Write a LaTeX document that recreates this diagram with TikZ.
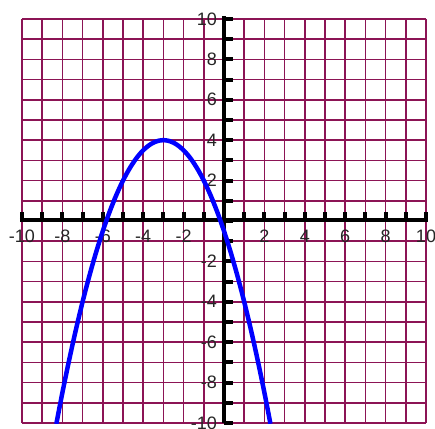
\documentclass[tikz,border=0pt]{standalone}
\usepackage{fontspec}
\setmainfont{Liberation Sans}
\definecolor{gridmaroon}{RGB}{140,20,85}
\definecolor{curveblue}{RGB}{0,0,255}
\begin{document}
\begin{tikzpicture}[x=1pt,y=1pt,
  gridline/.style={draw=gridmaroon,line width=1.6pt},
  axisline/.style={draw=black,line width=4.5pt},
  tickmark/.style={draw=black,line width=4pt},
  lbl/.style={font=\fontsize{18}{18}\selectfont,inner sep=0pt,text=black!85},
  curve/.style={draw=curveblue,line width=4.5pt,line join=round}]
\useasboundingbox (-224,-207) rectangle (211,221);
\fill[white] (-224,-207) rectangle (211,221);
\def\u{20.2}
% grid
\foreach \i in {-10,...,10}{
  \draw[gridline] (\i*\u,-10*\u) -- (\i*\u,10*\u);
  \draw[gridline] (-10*\u,\i*\u) -- (10*\u,\i*\u);
}
% axes
\coordinate (xa) at (-10*\u-2,1);
\coordinate (xb) at (10*\u+2,1);
\coordinate (ya) at (0,-10*\u);
\coordinate (yb) at (0,10*\u+3);
\draw[axisline] (xa) -- (xb);
\draw[axisline] (ya) -- (yb);
\foreach \i in {-10,...,10}{
  \draw[tickmark] (\i*\u,1) -- (\i*\u,9);
  \draw[tickmark] (0,\i*\u) -- (9,\i*\u);
}
% labels
\foreach \i in {-10,-8,-6,-4,-2,2,4,6,8,10}{
  \node[lbl] (xl\i) at (\i*\u,-15) {\i};
  \node[lbl,anchor=east] (yl\i) at (-7,\i*\u) {\i};
}
% curve
\begin{scope}
\clip (-10*\u,-10*\u) rectangle (10*\u,10*\u);
\draw[curve] plot[domain=-8.3:2.3,samples=120,smooth] ({\x*\u},{(-0.5*(\x+3)*(\x+3)+4)*\u});
\end{scope}
\end{tikzpicture}
\end{document}
